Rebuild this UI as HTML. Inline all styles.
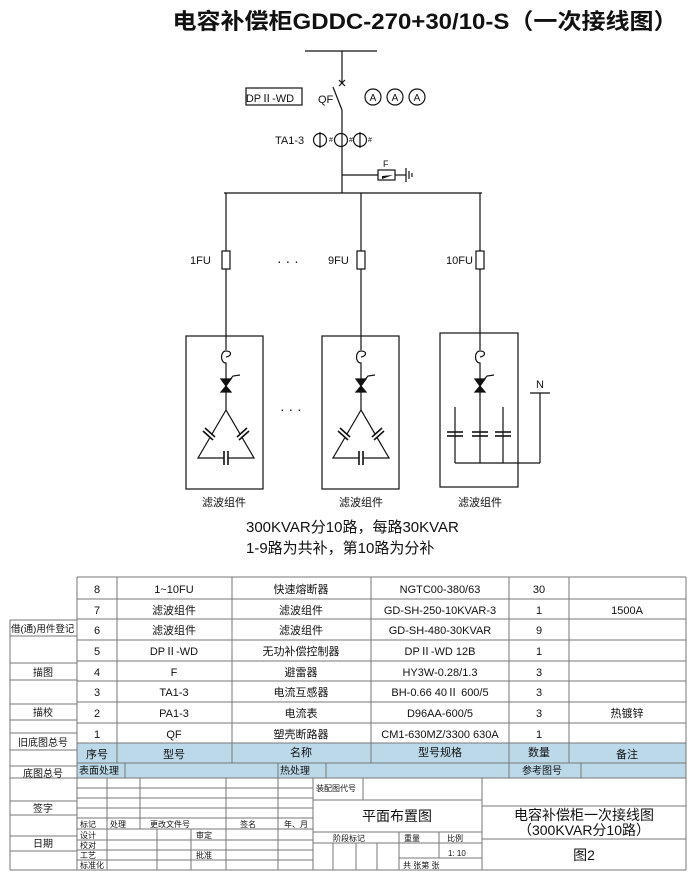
<!DOCTYPE html>
<html><head><meta charset="utf-8"><style>
html,body{margin:0;padding:0;background:#fff;}
svg{display:block;}
text{font-family:"Liberation Sans","Noto Sans CJK SC",sans-serif;fill:#111;}
</style></head><body>
<svg width="700" height="887" viewBox="0 0 700 887" xmlns="http://www.w3.org/2000/svg">
<text x="425" y="29" font-size="22" font-weight="bold" text-anchor="middle" textLength="505" lengthAdjust="spacingAndGlyphs">电容补偿柜GDDC-270+30/10-S（一次接线图）</text>
<g stroke="#111" stroke-width="1.2" fill="none">
<line x1="305" y1="51" x2="377" y2="51"/>
<line x1="342" y1="51" x2="342" y2="83"/>
<line x1="339" y1="80" x2="345" y2="86"/><line x1="345" y1="80" x2="339" y2="86"/>
<line x1="342" y1="110" x2="333" y2="87"/>
<line x1="342" y1="110" x2="342" y2="193"/>
<rect x="246" y="88" width="56" height="17"/>
<circle cx="373" cy="97" r="8"/><circle cx="395" cy="97" r="8"/><circle cx="417" cy="97" r="8"/>
<circle cx="320" cy="140" r="6.5"/><circle cx="341" cy="140" r="6.5"/><circle cx="360" cy="140" r="6.5"/>
<line x1="320" y1="132" x2="320" y2="148"/><line x1="360" y1="132" x2="360" y2="148"/>
<line x1="378" y1="175" x2="342" y2="175"/>
<rect x="378" y="170" width="17" height="10"/>
<line x1="395" y1="175" x2="406" y2="175"/>
<line x1="406" y1="168" x2="406" y2="182"/><line x1="409" y1="171" x2="409" y2="179"/><line x1="412" y1="173" x2="412" y2="177"/>
<line x1="224" y1="193" x2="482" y2="193"/>
<line x1="226" y1="193" x2="226" y2="350"/>
<line x1="361" y1="193" x2="361" y2="350"/>
<line x1="480" y1="193" x2="480" y2="350"/>
<rect x="222" y="251" width="8" height="18" fill="#fff"/>
<rect x="357" y="251" width="8" height="18" fill="#fff"/>
<rect x="476" y="251" width="8" height="18" fill="#fff"/>
<rect x="186" y="336" width="77" height="153"/>
<rect x="322" y="336" width="77" height="153"/>
<rect x="440" y="333" width="78" height="154"/>
</g>
<polygon points="382,176 393,175 382,179" fill="#111"/>
<text x="270" y="102" font-size="11" text-anchor="middle">DPⅡ-WD</text>
<text x="318" y="103" font-size="11">QF</text>
<text x="373" y="101" font-size="10" text-anchor="middle">A</text><text x="395" y="101" font-size="10" text-anchor="middle">A</text><text x="417" y="101" font-size="10" text-anchor="middle">A</text>
<text x="275" y="144" font-size="11">TA1-3</text>
<text x="329" y="142" font-size="7">#</text><text x="349" y="142" font-size="7">#</text><text x="368" y="142" font-size="7">#</text>
<text x="383" y="167" font-size="9">F</text>
<text x="190" y="264" font-size="11">1FU</text>
<text x="277" y="266" font-size="14">·  ·  ·</text>
<text x="328" y="264" font-size="11">9FU</text>
<text x="446" y="264" font-size="11">10FU</text>
<text x="280" y="414" font-size="14">·  ·  ·</text>
<defs>
<g id="top" stroke="#111" stroke-width="1.2" fill="none">
<path d="M0,351 C-6,351 -6,363 0,363 L0,365"/>
<path d="M0,351 C6,351 6,356 0,357"/>
<line x1="0" y1="365" x2="0" y2="410"/>
<polygon points="-5,379 5,379 0,386" fill="#111"/>
<polygon points="-5,392 5,392 0,386" fill="#111"/>
<path d="M2,382 L7,376 L14,375"/>
</g>
<g id="tri" stroke="#111" stroke-width="1.2" fill="none">
<path d="M0,410 L-28,458 L28,458 Z"/>
<line x1="-21" y1="432" x2="-13" y2="438" stroke="#fff" stroke-width="4"/>
<line x1="-23" y1="431" x2="-13" y2="440" stroke-width="1.6"/>
<line x1="-21" y1="428" x2="-11" y2="437" stroke-width="1.6"/>
<line x1="13" y1="437" x2="21" y2="431" stroke="#fff" stroke-width="4"/>
<line x1="11" y1="437" x2="21" y2="428" stroke-width="1.6"/>
<line x1="13" y1="440" x2="23" y2="431" stroke-width="1.6"/>
<line x1="-2" y1="458" x2="2" y2="458" stroke="#fff" stroke-width="4"/>
<line x1="-2" y1="451" x2="-2" y2="465" stroke-width="1.6"/>
<line x1="2" y1="451" x2="2" y2="465" stroke-width="1.6"/>
</g>
</defs>
<use href="#top" x="226"/><use href="#tri" x="226"/>
<use href="#top" x="361"/><use href="#tri" x="361"/>
<use href="#top" x="480"/>
<g stroke="#111" stroke-width="1.2" fill="none">
<line x1="455" y1="407" x2="455" y2="463"/>
<line x1="503" y1="407" x2="503" y2="463"/>
<line x1="455" y1="463" x2="540" y2="463"/>
<line x1="540" y1="393" x2="540" y2="463"/>
<line x1="530" y1="393" x2="550" y2="393"/>
<g stroke-width="1.6">
<line x1="447" y1="432" x2="463" y2="432"/><line x1="447" y1="436" x2="463" y2="436"/>
<line x1="472" y1="432" x2="488" y2="432"/><line x1="472" y1="436" x2="488" y2="436"/>
<line x1="495" y1="432" x2="511" y2="432"/><line x1="495" y1="436" x2="511" y2="436"/>
</g>
</g>
<line x1="480" y1="410" x2="480" y2="463" stroke="#111" stroke-width="1.2"/>
<text x="536" y="388" font-size="11">N</text>
<text x="224" y="506" font-size="11" text-anchor="middle">滤波组件</text>
<text x="361" y="506" font-size="11" text-anchor="middle">滤波组件</text>
<text x="480" y="506" font-size="11" text-anchor="middle">滤波组件</text>
<text x="246" y="532" font-size="15">300KVAR分10路，每路30KVAR</text>
<text x="246" y="553" font-size="15">1-9路为共补，第10路为分补</text>

<rect x="77" y="743" width="609" height="20" fill="#bcd9ea"/>
<rect x="77" y="763" width="609" height="15" fill="#bcd9ea"/>
<g stroke="#777" stroke-width="1" fill="none">
<line x1="77" y1="577" x2="686" y2="577"/>
<line x1="77" y1="599" x2="686" y2="599"/>
<line x1="77" y1="619" x2="686" y2="619"/>
<line x1="77" y1="640" x2="686" y2="640"/>
<line x1="77" y1="661" x2="686" y2="661"/>
<line x1="77" y1="681" x2="686" y2="681"/>
<line x1="77" y1="702" x2="686" y2="702"/>
<line x1="77" y1="723" x2="686" y2="723"/>
<line x1="77" y1="743" x2="686" y2="743"/>
<line x1="77" y1="763" x2="686" y2="763"/>
<line x1="10" y1="778" x2="686" y2="778"/>
<line x1="77" y1="577" x2="77" y2="870"/>
<line x1="117" y1="577" x2="117" y2="763"/>
<line x1="232" y1="577" x2="232" y2="763"/>
<line x1="371" y1="577" x2="371" y2="763"/>
<line x1="509" y1="577" x2="509" y2="778"/>
<line x1="569" y1="577" x2="569" y2="763"/>
<line x1="686" y1="577" x2="686" y2="870"/>
<line x1="125" y1="763" x2="125" y2="778"/>
<line x1="278" y1="763" x2="278" y2="778"/>
<line x1="326" y1="763" x2="326" y2="778"/>
<line x1="581" y1="763" x2="581" y2="778"/>
<line x1="10" y1="620" x2="10" y2="870"/>
<rect x="10" y="620" width="67" height="16"/>
<line x1="10" y1="663" x2="77" y2="663"/><line x1="10" y1="680" x2="77" y2="680"/>
<line x1="10" y1="704" x2="77" y2="704"/><line x1="10" y1="720" x2="77" y2="720"/>
<line x1="10" y1="733" x2="77" y2="733"/><line x1="10" y1="750" x2="77" y2="750"/>
<line x1="10" y1="766" x2="77" y2="766"/>
<line x1="10" y1="801" x2="77" y2="801"/><line x1="10" y1="815" x2="77" y2="815"/>
<line x1="10" y1="836" x2="77" y2="836"/><line x1="10" y1="851" x2="77" y2="851"/>
<line x1="10" y1="870" x2="686" y2="870"/>
<line x1="77" y1="788" x2="313" y2="788"/>
<line x1="77" y1="798" x2="313" y2="798"/>
<line x1="77" y1="808" x2="313" y2="808"/>
<line x1="77" y1="818" x2="313" y2="818"/>
<line x1="77" y1="829" x2="313" y2="829"/>
<line x1="77" y1="840" x2="313" y2="840"/>
<line x1="77" y1="850" x2="313" y2="850"/>
<line x1="77" y1="860" x2="313" y2="860"/>
<line x1="107" y1="778" x2="107" y2="829"/>
<line x1="140" y1="778" x2="140" y2="829"/>
<line x1="226" y1="778" x2="226" y2="870"/>
<line x1="278" y1="778" x2="278" y2="870"/>
<line x1="107" y1="829" x2="107" y2="870"/>
<line x1="157" y1="829" x2="157" y2="870"/>
<line x1="191" y1="829" x2="191" y2="870"/>
<line x1="313" y1="778" x2="313" y2="870"/>
<line x1="363" y1="778" x2="363" y2="800"/>
<line x1="313" y1="800" x2="482" y2="800"/>
<line x1="482" y1="778" x2="482" y2="870"/>
<line x1="313" y1="832" x2="482" y2="832"/>
<line x1="313" y1="843" x2="482" y2="843"/>
<line x1="399" y1="858" x2="482" y2="858"/>
<line x1="333" y1="843" x2="333" y2="870"/>
<line x1="356" y1="843" x2="356" y2="870"/>
<line x1="377" y1="843" x2="377" y2="870"/>
<line x1="399" y1="832" x2="399" y2="870"/>
<line x1="439" y1="832" x2="439" y2="858"/>
<line x1="482" y1="806" x2="686" y2="806"/>
<line x1="482" y1="839" x2="686" y2="839"/>
</g>
<g font-size="11" text-anchor="middle">
<text x="97" y="593">8</text><text x="174" y="593">1~10FU</text><text x="301" y="593">快速熔断器</text><text x="440" y="593">NGTC00-380/63</text><text x="539" y="593">30</text>
<text x="97" y="614">7</text><text x="174" y="614">滤波组件</text><text x="301" y="614">滤波组件</text><text x="440" y="614">GD-SH-250-10KVAR-3</text><text x="539" y="614">1</text><text x="627" y="614">1500A</text>
<text x="97" y="634">6</text><text x="174" y="634">滤波组件</text><text x="301" y="634">滤波组件</text><text x="440" y="634">GD-SH-480-30KVAR</text><text x="539" y="634">9</text>
<text x="97" y="655">5</text><text x="174" y="655">DPⅡ-WD</text><text x="301" y="655">无功补偿控制器</text><text x="440" y="655">DPⅡ-WD 12B</text><text x="539" y="655">1</text>
<text x="97" y="676">4</text><text x="174" y="676">F</text><text x="301" y="676">避雷器</text><text x="440" y="676">HY3W-0.28/1.3</text><text x="539" y="676">3</text>
<text x="97" y="696">3</text><text x="174" y="696">TA1-3</text><text x="301" y="696">电流互感器</text><text x="440" y="696">BH-0.66 40Ⅱ 600/5</text><text x="539" y="696">3</text>
<text x="97" y="717">2</text><text x="174" y="717">PA1-3</text><text x="301" y="717">电流表</text><text x="440" y="717">D96AA-600/5</text><text x="539" y="717">3</text><text x="627" y="717">热镀锌</text>
<text x="97" y="738">1</text><text x="174" y="738">QF</text><text x="301" y="738">塑壳断路器</text><text x="440" y="738">CM1-630MZ/3300 630A</text><text x="539" y="738">1</text>
<text x="97" y="758">序号</text><text x="174" y="758">型号</text><text x="301" y="756">名称</text><text x="440" y="756">型号规格</text><text x="539" y="756">数量</text><text x="627" y="758">备注</text>
</g>
<g font-size="10">
<text x="79" y="774">表面处理</text><text x="280" y="774">热处理</text><text x="522" y="774">参考图号</text>
<text x="11" y="632" font-size="9.5">借(通)用件登记</text>
<text x="43" y="676" text-anchor="middle">描图</text>
<text x="43" y="716" text-anchor="middle">描校</text>
<text x="43" y="746" text-anchor="middle">旧底图总号</text>
<text x="43" y="777" text-anchor="middle">底图总号</text>
<text x="43" y="812" text-anchor="middle">签字</text>
<text x="43" y="847" text-anchor="middle">日期</text>
</g>
<g font-size="8">
<text x="80" y="827">标记</text><text x="110" y="827">处理</text><text x="150" y="827">更改文件号</text><text x="240" y="827">签名</text><text x="284" y="827">年、月</text>
<text x="80" y="838">设计</text><text x="196" y="838">审定</text>
<text x="80" y="848">校对</text>
<text x="80" y="858">工艺</text><text x="196" y="858">批准</text>
<text x="80" y="868">标准化</text>
<text x="316" y="791">装配图代号</text>
<text x="333" y="841">阶段标记</text><text x="404" y="841">重量</text><text x="447" y="841">比例</text>
<text x="448" y="856">1: 10</text>
<text x="403" y="868">共  张第  张</text>
</g>
<text x="397" y="821" font-size="14" text-anchor="middle">平面布置图</text>
<text x="584" y="820" font-size="14" text-anchor="middle">电容补偿柜一次接线图</text>
<text x="584" y="835" font-size="14" text-anchor="middle">（300KVAR分10路）</text>
<text x="584" y="860" font-size="14" text-anchor="middle">图2</text>
</svg>
</body></html>
